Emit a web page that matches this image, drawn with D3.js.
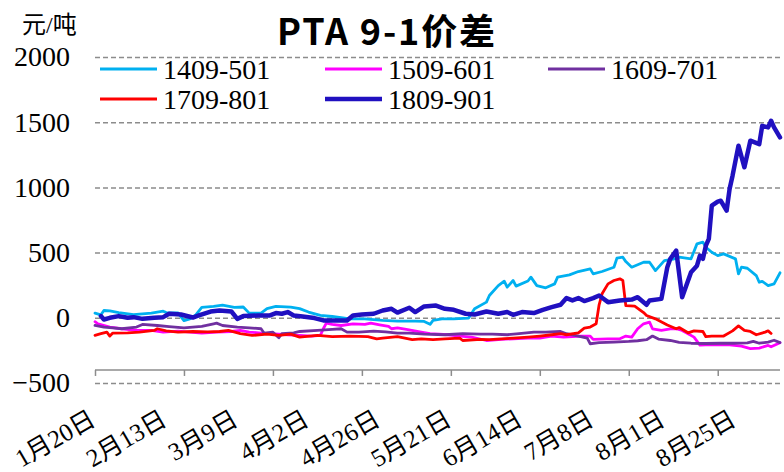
<!DOCTYPE html>
<html>
<head>
<meta charset="utf-8">
<script src="https://cdn.jsdelivr.net/npm/d3@7"></script>
<style>
  body { margin: 0; background: #fff; }
  svg { display: block; }
  .serif { font-family: 'Liberation Serif', 'Tinos', 'Times New Roman', 'DejaVu Serif', serif, 'Noto Sans CJK SC'; }
</style>
</head>
<body>
<svg id="chart"></svg>
<script>
// PTA 9-1 spread, five contract pairs, values in yuan/ton
// each series is [day index from 1月20日, value]

const seriesNames = ['1409-501', '1509-601', '1609-701', '1709-801', '1809-901'];
const seriesColors = ['#00b0f0', '#ff00ff', '#7030a0', '#ff0000', '#2010c0'];

const xLabels = ['1月20日', '2月13日', '3月9日', '4月2日', '4月26日', '5月21日', '6月14日', '7月8日', '8月1日', '8月25日'];
const labelEvery = 24;
const tickEvery = 30;
const dayCount = 232;
const yTicks = [-500, 0, 500, 1000, 1500, 2000];

const s1409 = [[0,36],[2,23],[3,56],[5,53],[8,40],[13,25],[19,36],[23,51],[24,40],[28,38],[30,-22],[32,-8],[34,23],[36,80],[40,87],[43,97],[47,80],[50,83],[52,36],[56,36],[58,70],[61,87],[66,82],[69,70],[72,44],[76,18],[80,10],[86,-8],[91,-8],[97,-20],[102,-25],[108,-25],[111,-28],[113,-50],[114,-20],[117,-8],[121,-8],[126,-2],[128,69],[132,120],[133,171],[136,247],[138,281],[139,235],[141,286],[142,243],[146,282],[147,312],[149,247],[152,230],[155,260],[156,312],[160,329],[163,355],[167,375],[168,337],[171,355],[175,388],[176,457],[178,465],[179,431],[181,388],[185,426],[187,426],[189,362],[192,439],[195,450],[197,465],[201,452],[203,567],[205,580],[206,541],[208,503],[210,477],[212,490],[216,452],[217,337],[218,388],[220,380],[223,324],[224,273],[225,280],[227,247],[229,260],[231,345]];

const s1509 = [[0,-30],[1,-46],[5,-71],[9,-84],[14,-97],[19,-97],[23,-110],[28,-102],[32,-110],[36,-117],[41,-110],[46,-105],[49,-97],[52,-110],[56,-117],[59,-122],[65,-130],[69,-135],[73,-140],[76,-135],[77,-84],[78,-41],[80,-51],[83,-59],[87,-46],[91,-51],[93,-41],[96,-54],[99,-66],[100,-84],[102,-77],[105,-89],[110,-110],[113,-122],[119,-130],[123,-140],[127,-148],[132,-174],[137,-166],[141,-161],[146,-156],[150,-156],[154,-140],[158,-148],[164,-140],[167,-140],[168,-166],[173,-161],[177,-161],[179,-140],[181,-148],[183,-84],[185,-46],[187,-33],[188,-84],[191,-97],[194,-84],[196,-84],[198,-97],[200,-122],[202,-148],[204,-210],[206,-207],[210,-207],[214,-207],[218,-217],[221,-237],[224,-232],[227,-212],[228,-222],[231,-191]];

const s1609 = [[0,-59],[3,-71],[6,-77],[9,-84],[14,-71],[16,-51],[21,-59],[25,-68],[30,-77],[36,-66],[40,-46],[41,-41],[43,-59],[48,-71],[52,-77],[56,-84],[57,-117],[60,-110],[62,-153],[63,-122],[67,-115],[69,-105],[75,-97],[80,-88],[83,-84],[85,-110],[89,-110],[94,-102],[98,-108],[102,-117],[106,-117],[111,-125],[118,-130],[124,-122],[130,-125],[134,-125],[139,-130],[143,-122],[148,-110],[152,-110],[157,-105],[159,-122],[163,-140],[166,-156],[167,-199],[170,-191],[175,-186],[180,-181],[183,-176],[186,-168],[188,-140],[190,-163],[194,-174],[197,-188],[201,-195],[206,-197],[211,-195],[215,-195],[220,-193],[222,-181],[224,-195],[227,-186],[229,-172],[231,-190]];

const s1709 = [[0,-135],[2,-122],[4,-110],[5,-140],[6,-117],[11,-115],[15,-110],[20,-97],[21,-84],[24,-100],[28,-110],[33,-105],[38,-108],[42,-105],[45,-97],[49,-122],[53,-135],[58,-125],[62,-135],[66,-125],[69,-148],[75,-135],[80,-145],[86,-140],[92,-145],[95,-161],[97,-156],[102,-145],[107,-168],[110,-161],[114,-168],[118,-161],[123,-156],[124,-174],[130,-166],[133,-168],[137,-161],[141,-156],[146,-148],[150,-140],[154,-130],[157,-122],[159,-130],[163,-115],[165,-79],[167,-71],[169,-46],[170,100],[171,184],[173,260],[175,286],[177,299],[178,286],[179,94],[182,90],[185,40],[186,18],[189,-8],[193,-55],[196,-84],[197,-75],[200,-115],[202,-100],[205,-105],[206,-145],[208,-140],[212,-140],[215,-100],[217,-62],[219,-97],[221,-105],[223,-130],[226,-110],[227,-100],[228,-120]];

const s1809 = [[2,13],[3,-13],[5,0],[8,13],[11,0],[13,5],[16,-8],[20,0],[23,5],[25,31],[29,25],[33,2],[35,18],[39,48],[42,56],[46,48],[48,-8],[50,13],[55,18],[59,18],[61,36],[63,31],[65,44],[67,18],[70,10],[74,-2],[77,-20],[82,-20],[85,-20],[87,18],[90,25],[94,31],[97,56],[100,69],[102,40],[106,77],[108,44],[111,87],[115,94],[118,69],[121,61],[125,31],[128,25],[132,48],[136,31],[139,44],[141,23],[144,44],[148,36],[151,61],[154,82],[157,100],[159,151],[161,133],[163,151],[165,128],[168,151],[170,171],[173,120],[177,133],[181,140],[183,158],[186,100],[187,133],[191,145],[193,388],[194,452],[196,515],[198,158],[201,350],[203,400],[204,477],[205,452],[206,553],[207,605],[208,860],[210,891],[211,898],[213,822],[214,988],[215,1090],[217,1320],[219,1154],[221,1358],[224,1332],[225,1472],[227,1460],[228,1511],[229,1460],[231,1384]];

const allSeries = [s1409, s1509, s1609, s1709, s1809];

const width = 784;
const height = 472;

const svg = d3.select('#chart').attr('width', width).attr('height', height);
svg.append('rect').attr('width', width).attr('height', height).attr('fill', '#fff');

const x = d3.scaleLinear().domain([0, dayCount - 1]).range([95, 780]);
const y = d3.scaleLinear().domain([-500, 2000]).range([383, 57]);

// dashed gridlines
const grid = svg.append('g')
    .attr('transform', `translate(${x(0)},0)`)
    .call(d3.axisLeft(y).tickValues(yTicks).tickSize(-(x.range()[1] - x.range()[0])).tickFormat(''));
grid.select('.domain').remove();
grid.selectAll('line')
    .attr('stroke', '#8c8c8c')
    .attr('stroke-width', 1.5)
    .attr('stroke-dasharray', '5,3');

// y labels
const yAxis = svg.append('g')
    .attr('transform', `translate(${x(0)},0)`)
    .call(d3.axisLeft(y).tickValues(yTicks).tickSize(0).tickPadding(25).tickFormat(d3.format('d')));
yAxis.attr('font-family', null).attr('font-size', null);
yAxis.select('.domain').remove();
yAxis.selectAll('text')
    .attr('class', 'serif')
    .style('font-size', '28px')
    .attr('fill', '#000');

// category axis sits at -400
const axisY = y(-400);
const xTickVals = d3.range(0, dayCount, tickEvery);
const xAxis = svg.append('g')
    .attr('transform', `translate(0,${axisY})`)
    .call(d3.axisBottom(x).tickValues(xTickVals).tickSize(6).tickFormat(''));
xAxis.select('.domain')
    .attr('d', `M${x.range()[0]},0H${x.range()[1]}`)
    .attr('stroke', '#8c8c8c')
    .attr('stroke-width', 1.5);
xAxis.selectAll('line').attr('stroke', '#8c8c8c').attr('stroke-width', 1.5);

const labelVals = xLabels.map((d, i) => i * labelEvery);
const xLab = svg.append('g')
    .attr('transform', 'translate(0,425)')
    .call(d3.axisBottom(x).tickValues(labelVals).tickSize(0)
        .tickFormat((d, i) => xLabels[i]));
xLab.attr('font-family', null).attr('font-size', null);
xLab.select('.domain').remove();
xLab.selectAll('text')
    .attr('class', 'serif')
    .style('font-size', '25px')
    .attr('fill', '#000')
    .attr('text-anchor', 'end')
    .attr('x', 2)
    .attr('y', 0)
    .attr('dy', 0)
    .attr('transform', 'rotate(-30)');

// lines
const line = d3.line()
    .x((d) => x(d[0]))
    .y((d) => y(d[1]));

allSeries.forEach((s, i) => {
    svg.append('path')
        .datum(s)
        .attr('d', line)
        .attr('fill', 'none')
        .attr('stroke', seriesColors[i])
        .attr('stroke-width', i === 4 ? 4.5 : 2.8)
        .attr('stroke-linejoin', 'round')
        .attr('stroke-linecap', 'round');
});

// legend
const legendPos = [[100, 69], [325, 69], [548, 69], [100, 99], [325, 99]];
const legend = svg.append('g');
seriesNames.forEach((name, i) => {
    const [lx, ly] = legendPos[i];
    legend.append('line')
        .attr('x1', lx).attr('x2', lx + 57)
        .attr('y1', ly).attr('y2', ly)
        .attr('stroke', seriesColors[i])
        .attr('stroke-width', i === 4 ? 4.5 : 3);
    legend.append('text')
        .attr('class', 'serif')
        .attr('x', lx + 63)
        .attr('y', ly + 10)
        .style('font-size', '28px')
        .text(name);
});

// title and unit
svg.append('text')
    .attr('x', 277)
    .attr('y', 45)
    .style('font-family', "'Noto Sans CJK SC', sans-serif")
    .style('font-weight', 'bold')
    .style('font-size', '36px')
    .attr('textLength', 218)
    .attr('lengthAdjust', 'spacing')
    .text('PTA 9-1价差');

svg.append('text')
    .attr('class', 'serif')
    .attr('x', 22)
    .attr('y', 33)
    .style('font-size', '24px')
    .text('元/吨');
</script>
</body>
</html>
